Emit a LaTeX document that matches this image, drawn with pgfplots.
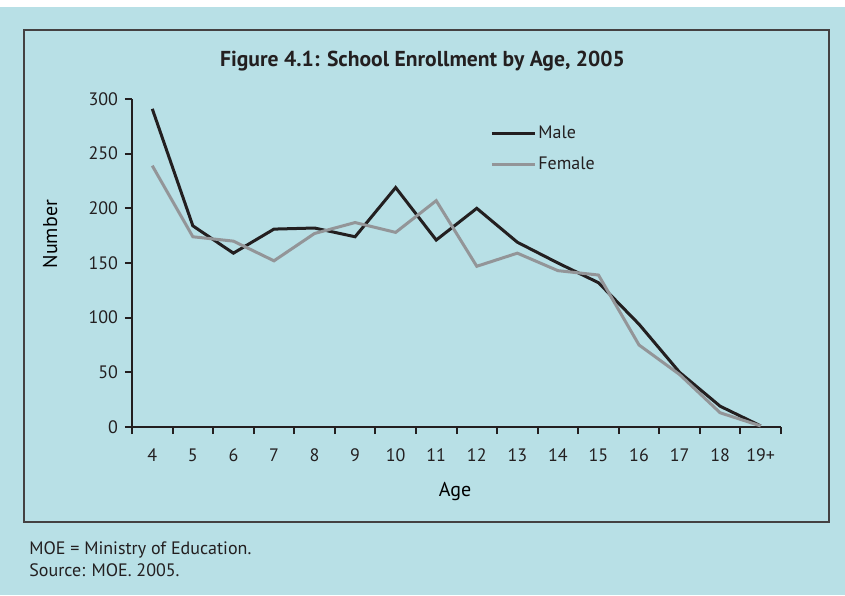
\documentclass[border=0pt]{standalone}
\usepackage{pgfplots}
\pgfplotsset{compat=1.18}
\usepackage{fontspec}
\setmainfont{PT Sans}
\definecolor{panel}{RGB}{184,224,230}
\definecolor{ink}{RGB}{35,31,32}
\definecolor{femalegray}{RGB}{147,149,152}

% enrollment counts by age (19 stands for 19+)
\pgfplotstableread{
age male female
4   291  239
5   184  174
6   159  170
7   181  152
8   182  177
9   174  187
10  219  178
11  171  207
12  200  147
13  169  159
14  150  143
15  132  139
16  94   75
17  50   48
18  19   13
19  1    1
}\enrollment

\begin{document}
\begin{tikzpicture}[x=1pt,y=1pt]
% page and panel
\fill[white] (0,0) rectangle (422.5,297.5);
\fill[panel] (0,0) rectangle (422.5,294);
\draw[ink!85, line width=0.6pt] (12,36.5) rectangle (414.5,282.5);
% title
\node[anchor=base, font=\fontsize{10.8}{12}\selectfont\bfseries, text=ink]
  at (211.25,264) {Figure 4.1: School Enrollment by Age, 2005};
% notes
\node[anchor=base west, font=\fontsize{9}{10}\selectfont, text=ink, inner sep=0pt]
  at (14.5,20.5) {MOE = Ministry of Education.};
\node[anchor=base west, font=\fontsize{9}{10}\selectfont, text=ink, inner sep=0pt]
  at (14.5,9.5) {Source: MOE. 2005.};

\begin{axis}[
  at={(66pt,84pt)}, anchor=south west,
  scale only axis, width=324.5pt, height=164pt,
  xmin=3.5, xmax=19.5, ymin=0, ymax=300,
  axis x line*=bottom, axis y line*=left,
  axis line style={-, line width=1pt, ink},
  every tick/.style={line width=1pt, ink},
  tick align=outside, major tick length=3.5pt,
  xtick={3.5,4.5,...,19.5},
  x tick label as interval,
  xticklabels={4,5,6,7,8,9,10,11,12,13,14,15,16,17,18,19+},
  xticklabel style={yshift=-4pt},
  ytick={0,50,...,300},
  /pgf/number format/assume math mode=true,
  tick label style={font=\fontsize{9}{10}\selectfont, text=ink},
  xlabel={Age}, ylabel={Number},
  label style={font=\fontsize{10}{11}\selectfont, text=ink},
  every axis x label/.style={at={(axis description cs:0.4977,-0.198)}, anchor=center},
  every axis y label/.style={at={(axis description cs:-0.1263,0.588)}, anchor=center, rotate=90},
  legend style={at={(0.5516,0.925)}, anchor=north west, draw=none, fill=none,
    inner sep=0pt, row sep=5.5pt, font=\fontsize{9}{10}\selectfont, text=ink,
    nodes={inner sep=1pt}},
  legend cell align=left,
  legend image code/.code={\draw[#1] (0pt,0pt) -- (21.5pt,0pt);},
  clip=false,
]
\addplot[ink, line width=1.5pt] table[x=age, y=male] {\enrollment};
\addlegendentry{Male}
\addplot[femalegray, line width=1.5pt] table[x=age, y=female] {\enrollment};
\addlegendentry{Female}
\end{axis}
\end{tikzpicture}
\end{document}
